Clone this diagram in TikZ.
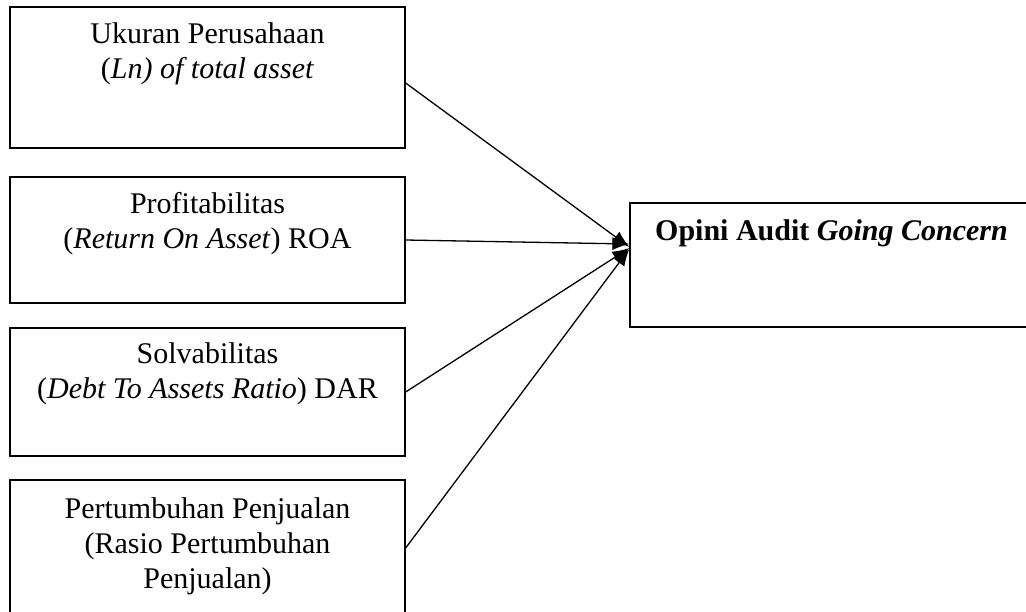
\documentclass[tikz,border=0pt]{standalone}
\usepackage{fontspec}
\setmainfont{Liberation Serif}
\usetikzlibrary{arrows.meta}
\begin{document}
\begin{tikzpicture}[x=1pt,y=-1pt,
  box/.style={draw=black, line width=1.3pt, inner sep=0pt, minimum width=395pt},
  lbl/.style={anchor=north, inner sep=0pt, align=center, font=\fontsize{30}{35}\selectfont},
  conn/.style={draw=black, line width=1.3pt, -{Latex[length=17pt,width=13pt]}}]
\clip (0,0) rectangle (1026,611);
\fill[white] (0,0) rectangle (1026,611);
% boxes
\node[box, minimum height=141pt] (b1) at (207.5,77.5) {};
\node[box, minimum height=126pt] (b2) at (207.5,240) {};
\node[box, minimum height=128pt] (b3) at (207.5,392) {};
\node[box, minimum height=160pt] (b4) at (207.5,560) {};
\node[box, minimum width=402pt, minimum height=124pt] (tgt) at (831,265) {};
% texts
\node[lbl] (t1) at (207.5,22) {Ukuran Perusahaan\\(\textit{Ln) of total asset}};
\node[lbl] (t2) at (207.5,192) {Profitabilitas\\(\textit{Return On Asset}) ROA};
\node[lbl] (t3) at (207.5,342) {Solvabilitas\\(\textit{Debt To Assets Ratio}) DAR};
\node[lbl] (t4) at (207.5,497) {Pertumbuhan Penjualan\\(Rasio Pertumbuhan\\Penjualan)};
\node[anchor=base west, inner sep=0pt, font=\fontsize{30}{35}\selectfont\bfseries] (tt) at (655,240) {Opini Audit \textit{Going Concern}};
% connectors
\draw[conn] ([yshift=-5.5pt]b1.east) -- ([yshift=18pt]tgt.west);
\draw[conn] (b2.east) -- ([yshift=21pt]tgt.west);
\draw[conn] (b3.east) -- ([yshift=17pt]tgt.west);
\draw[conn] ([yshift=12pt]b4.east) -- ([yshift=16pt]tgt.west);
\end{tikzpicture}
\end{document}
